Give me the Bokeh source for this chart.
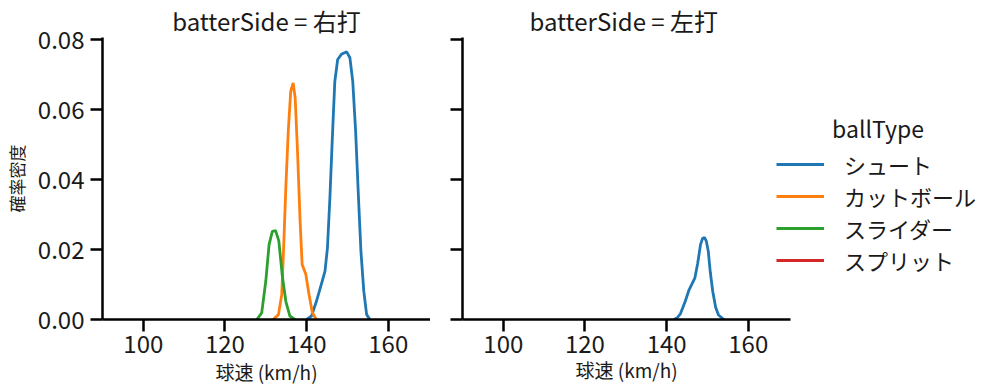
from bokeh.plotting import figure
from bokeh.layouts import row
from bokeh.models import (Range1d, Legend, LegendItem, Label, FixedTicker, Title,
                          NumeralTickFormatter, CustomJSTickFormatter)
from bokeh.embed import file_html
from bokeh.resources import INLINE

FONT = "Noto Sans CJK JP"

ball_types = ["シュート", "カットボール", "スライダー", "スプリット"]
colors = ["#1f77b4", "#ff7f0e", "#2ca02c", "#d62728"]
panel_titles = ["batterSide = 右打", "batterSide = 左打"]
x_label = "球速 (km/h)"
y_label = "確率密度"
legend_title = "ballType"
x_ticks = [100, 120, 140, 160]
y_ticks = [0.0, 0.02, 0.04, 0.06, 0.08]

# 右打 panel
r_shoot_x = [140.0, 141.2, 142.4, 143.7, 144.5, 145.1, 145.7, 146.3, 146.9, 147.6, 148.6, 149.8,
             150.6, 151.3, 152.0, 152.7, 153.3, 154.0, 154.7, 155.5]
r_shoot_y = [0.0, 0.001, 0.0052, 0.0105, 0.0138, 0.0205, 0.0348, 0.052, 0.068, 0.0743, 0.0759, 0.0765,
             0.0748, 0.068, 0.0538, 0.0348, 0.0195, 0.0081, 0.0014, 0.0]
r_cut_x = [131.8, 133.1, 133.9, 134.4, 134.9, 135.5, 136.1, 136.7, 137.2, 137.8, 138.4, 138.9,
           139.8, 140.6, 141.4, 142.4]
r_cut_y = [0.0, 0.0014, 0.0071, 0.0214, 0.0376, 0.0538, 0.0652, 0.0676, 0.0633, 0.0471, 0.0281, 0.0157,
           0.0129, 0.0071, 0.0019, 0.0]
r_slider_x = [127.8, 129.0, 130.0, 130.8, 131.6, 132.4, 133.2, 134.0, 134.9, 135.9, 137.1]
r_slider_y = [0.0, 0.0019, 0.011, 0.0214, 0.0252, 0.0254, 0.0224, 0.0129, 0.0052, 0.001, 0.0]

# 左打 panel
l_shoot_x = [141.8, 142.6, 143.4, 144.5, 145.5, 146.9, 147.6, 148.3, 148.8, 149.3, 149.7, 150.2,
             150.7, 151.3, 152.0, 152.7, 154.0]
l_shoot_y = [0.0, 0.0005, 0.0017, 0.005, 0.0085, 0.0118, 0.016, 0.0214, 0.0232, 0.0234, 0.0225, 0.0195,
             0.0135, 0.008, 0.0035, 0.0013, 0.0]

X_MIN, X_MAX = 90.0, 170.34
PANEL_W = 328
PX_PER_UNIT = PANEL_W / (X_MAX - X_MIN)


def style_axis(ax, label_size):
    ax.axis_line_width = 2.5
    ax.axis_line_color = "black"
    ax.major_tick_line_width = 2.5
    ax.major_tick_line_color = "black"
    ax.major_tick_out = 12
    ax.major_tick_in = 0
    ax.minor_tick_out = 0
    ax.minor_tick_in = 0
    ax.major_label_text_font = FONT
    ax.major_label_text_font_size = "24px"
    ax.major_label_text_color = "#1a1a1a"
    ax.axis_label_text_font = FONT
    ax.axis_label_text_font_size = label_size
    ax.axis_label_text_font_style = "normal"
    ax.axis_label_text_color = "#1a1a1a"


def make_fig(left_border, frame_width):
    x_end = X_MIN + frame_width / PX_PER_UNIT
    p = figure(frame_width=frame_width, frame_height=282,
               x_range=Range1d(X_MIN, x_end), y_range=Range1d(0, 0.0806),
               output_backend="svg", toolbar_location=None,
               min_border_left=left_border, min_border_right=0,
               min_border_top=28, min_border_bottom=65)
    p.outline_line_color = None
    p.xgrid.visible = False
    p.ygrid.visible = False
    p.background_fill_color = "white"
    p.border_fill_color = "white"
    style_axis(p.xaxis[0], "19px")
    style_axis(p.yaxis[0], "17px")
    p.xaxis.ticker = FixedTicker(ticks=x_ticks)
    p.xaxis.bounds = (X_MIN, X_MAX)
    p.yaxis.ticker = FixedTicker(ticks=y_ticks)
    p.xaxis.major_label_standoff = 3
    p.xaxis.axis_label_standoff = 2
    return p


def title_style(t, size):
    t.text_font = FONT
    t.text_font_size = size
    t.text_font_style = "normal"
    t.text_color = "#1a1a1a"


# left panel
p1 = make_fig(92, PANEL_W)
p1.title.text = panel_titles[0]
p1.title.align = "center"
p1.title.standoff = 0
p1.title.text_line_height = 0.85
title_style(p1.title, "24px")
p1.xaxis.axis_label = x_label
p1.yaxis.formatter = NumeralTickFormatter(format="0.00")
p1.yaxis.axis_label = y_label
p1.yaxis.major_label_standoff = 6
p1.yaxis.axis_label_standoff = 6
p1.line(r_shoot_x, r_shoot_y, line_color=colors[0], line_width=2.8)
p1.line(r_cut_x, r_cut_y, line_color=colors[1], line_width=2.8)
p1.line(r_slider_x, r_slider_y, line_color=colors[2], line_width=2.8)

# right panel (frame widened to host the legend; axis line bounded to the data range)
p2 = make_fig(32, 528)
p2.title.text = panel_titles[1]
p2.title.align = "left"
p2.title.offset = 67
p2.title.standoff = 0
p2.title.text_line_height = 0.85
title_style(p2.title, "24px")
p2.yaxis.formatter = CustomJSTickFormatter(code="return '';")
p2.yaxis.major_label_standoff = 0
xt = Title(text=x_label, align="left", offset=113, standoff=0,
           vertical_align="top", text_line_height=0.9)
title_style(xt, "19px")
p2.add_layout(xt, "below")

nan = float("nan")
rs = [p2.line(l_shoot_x, l_shoot_y, line_color=colors[0], line_width=2.8)]
for c in colors[1:]:
    rs.append(p2.line([nan, nan], [nan, nan], line_color=c, line_width=2.8))

legend = Legend(items=[LegendItem(label=lab, renderers=[r]) for lab, r in zip(ball_types, rs)],
                location=(314, 43), orientation="vertical",
                padding=0, margin=0, spacing=0,
                glyph_width=48, glyph_height=30, label_height=30,
                label_standoff=20,
                label_text_font=FONT, label_text_font_size="22px",
                label_text_color="#1a1a1a",
                border_line_color=None, background_fill_alpha=0)
p2.add_layout(legend, "center")

p2.add_layout(Label(x=X_MIN + (876 - 460.5) / PX_PER_UNIT, y=0.0546, text=legend_title,
                    text_align="center", text_baseline="middle", text_font=FONT,
                    text_font_size="23px", text_color="#1a1a1a"))

layout = row(p1, p2)
open("out.html", "w").write(file_html(layout, INLINE))
